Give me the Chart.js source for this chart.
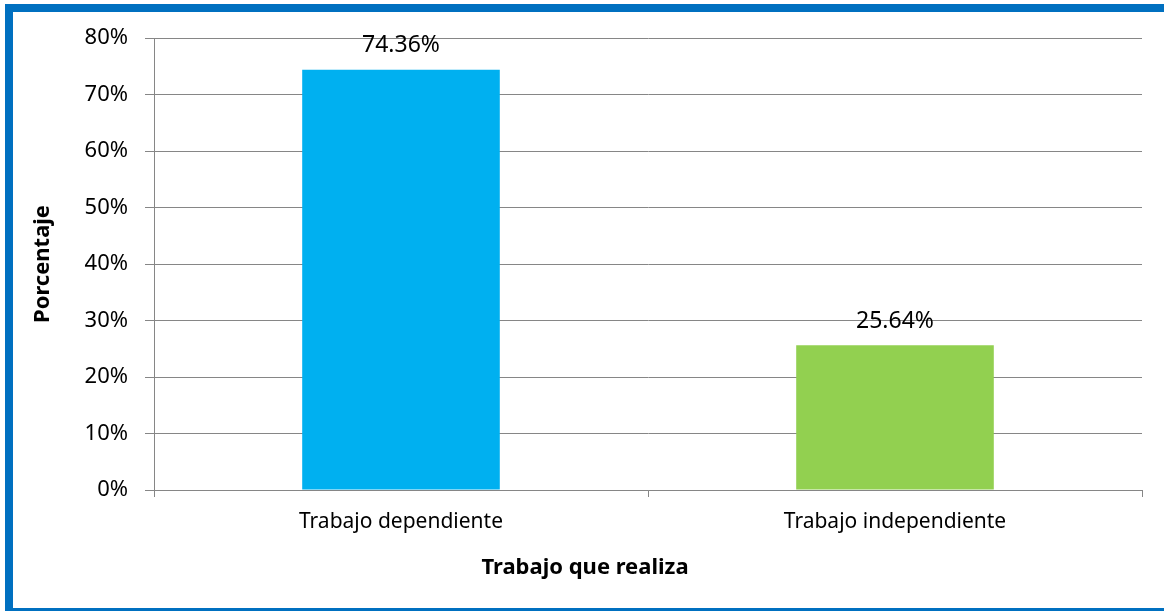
<!DOCTYPE html>
<html>
<head>
<meta charset="utf-8">
<script src="https://cdn.jsdelivr.net/npm/chart.js@4.4.1/dist/chart.umd.min.js"></script>
<style>
    html, body { margin: 0; padding: 0; background: #fff; overflow: hidden; }
    .frame {
        position: absolute; left: 5px; top: 4px; width: 1151px; height: 596px;
        border-left: 8px solid #0070c0; border-top: 8px solid #0070c0; border-bottom: 3px solid #0070c0;
    }
    #chart { position: absolute; left: 0; top: 0; }
    .x_title {
        position: absolute; left: 585px; top: 565px; transform: translate(-50%, -50%);
        font: bold 22px "Noto Sans"; color: #000; white-space: nowrap;
    }
</style>
</head>
<body>
<div class="frame"></div>
<canvas id="chart" width="1164" height="611"></canvas>
<div class="x_title">Trabajo que realiza</div>
<script>
var categories = ['Trabajo dependiente', 'Trabajo independiente'];
var values = [74.36, 25.64];
var barColors = ['#00b0f0', '#92d050'];
var valueLabels = ['74.36%', '25.64%'];
var yTicks = [0, 10, 20, 30, 40, 50, 60, 70, 80];

// etiquetas encima de las barras
const barLabels = {
    id: 'barLabels',
    afterDatasetsDraw: function (chart) {
        const ctx = chart.ctx;
        const meta = chart.getDatasetMeta(0);
        ctx.save();
        ctx.font = '23px "Noto Sans"';
        ctx.fillStyle = '#000';
        ctx.textAlign = 'center';
        ctx.textBaseline = 'middle';
        meta.data.forEach(function (bar, i) {
            ctx.fillText(valueLabels[i], bar.x, bar.y - 24);
        });
        ctx.restore();
    }
};

new Chart(document.getElementById('chart'), {
    type: 'bar',
    data: {
        labels: categories,
        datasets: [{
            data: values,
            backgroundColor: barColors,
            borderWidth: 0,
            barPercentage: 0.4,
            categoryPercentage: 1,
        }]
    },
    options: {
        responsive: false,
        animation: false,
        devicePixelRatio: 1,
        layout: {
            padding: { left: 25, top: 38, right: 22, bottom: 0 }
        },
        plugins: {
            legend: { display: false },
            tooltip: { enabled: false }
        },
        scales: {
            y: {
                min: 0,
                max: 80,
                afterFit: function (scale) { scale.width = 129; },
                afterBuildTicks: function (scale) {
                    scale.ticks = yTicks.map(function (v) { return { value: v }; });
                },
                grid: {
                    color: '#868686',
                    tickLength: 9,
                    lineWidth: 1,
                },
                border: { color: '#868686' },
                ticks: {
                    color: '#000',
                    padding: 17,
                    font: { family: 'Noto Sans', size: 22 },
                    callback: function (v) { return v + '%'; }
                },
                title: {
                    display: true,
                    text: 'Porcentaje',
                    color: '#000',
                    font: { family: 'Noto Sans', size: 22, weight: 'bold' },
                    padding: { top: 5, bottom: 0 }
                }
            },
            x: {
                afterFit: function (scale) { scale.height = 121; },
                grid: {
                    drawOnChartArea: false,
                    color: '#868686',
                    tickLength: 7,
                    offset: true,
                },
                border: { color: '#868686' },
                ticks: {
                    color: '#000',
                    padding: 12,
                    font: { family: 'Noto Sans', size: 21 }
                }
            }
        }
    },
    plugins: [barLabels]
});
</script>
</body>
</html>
